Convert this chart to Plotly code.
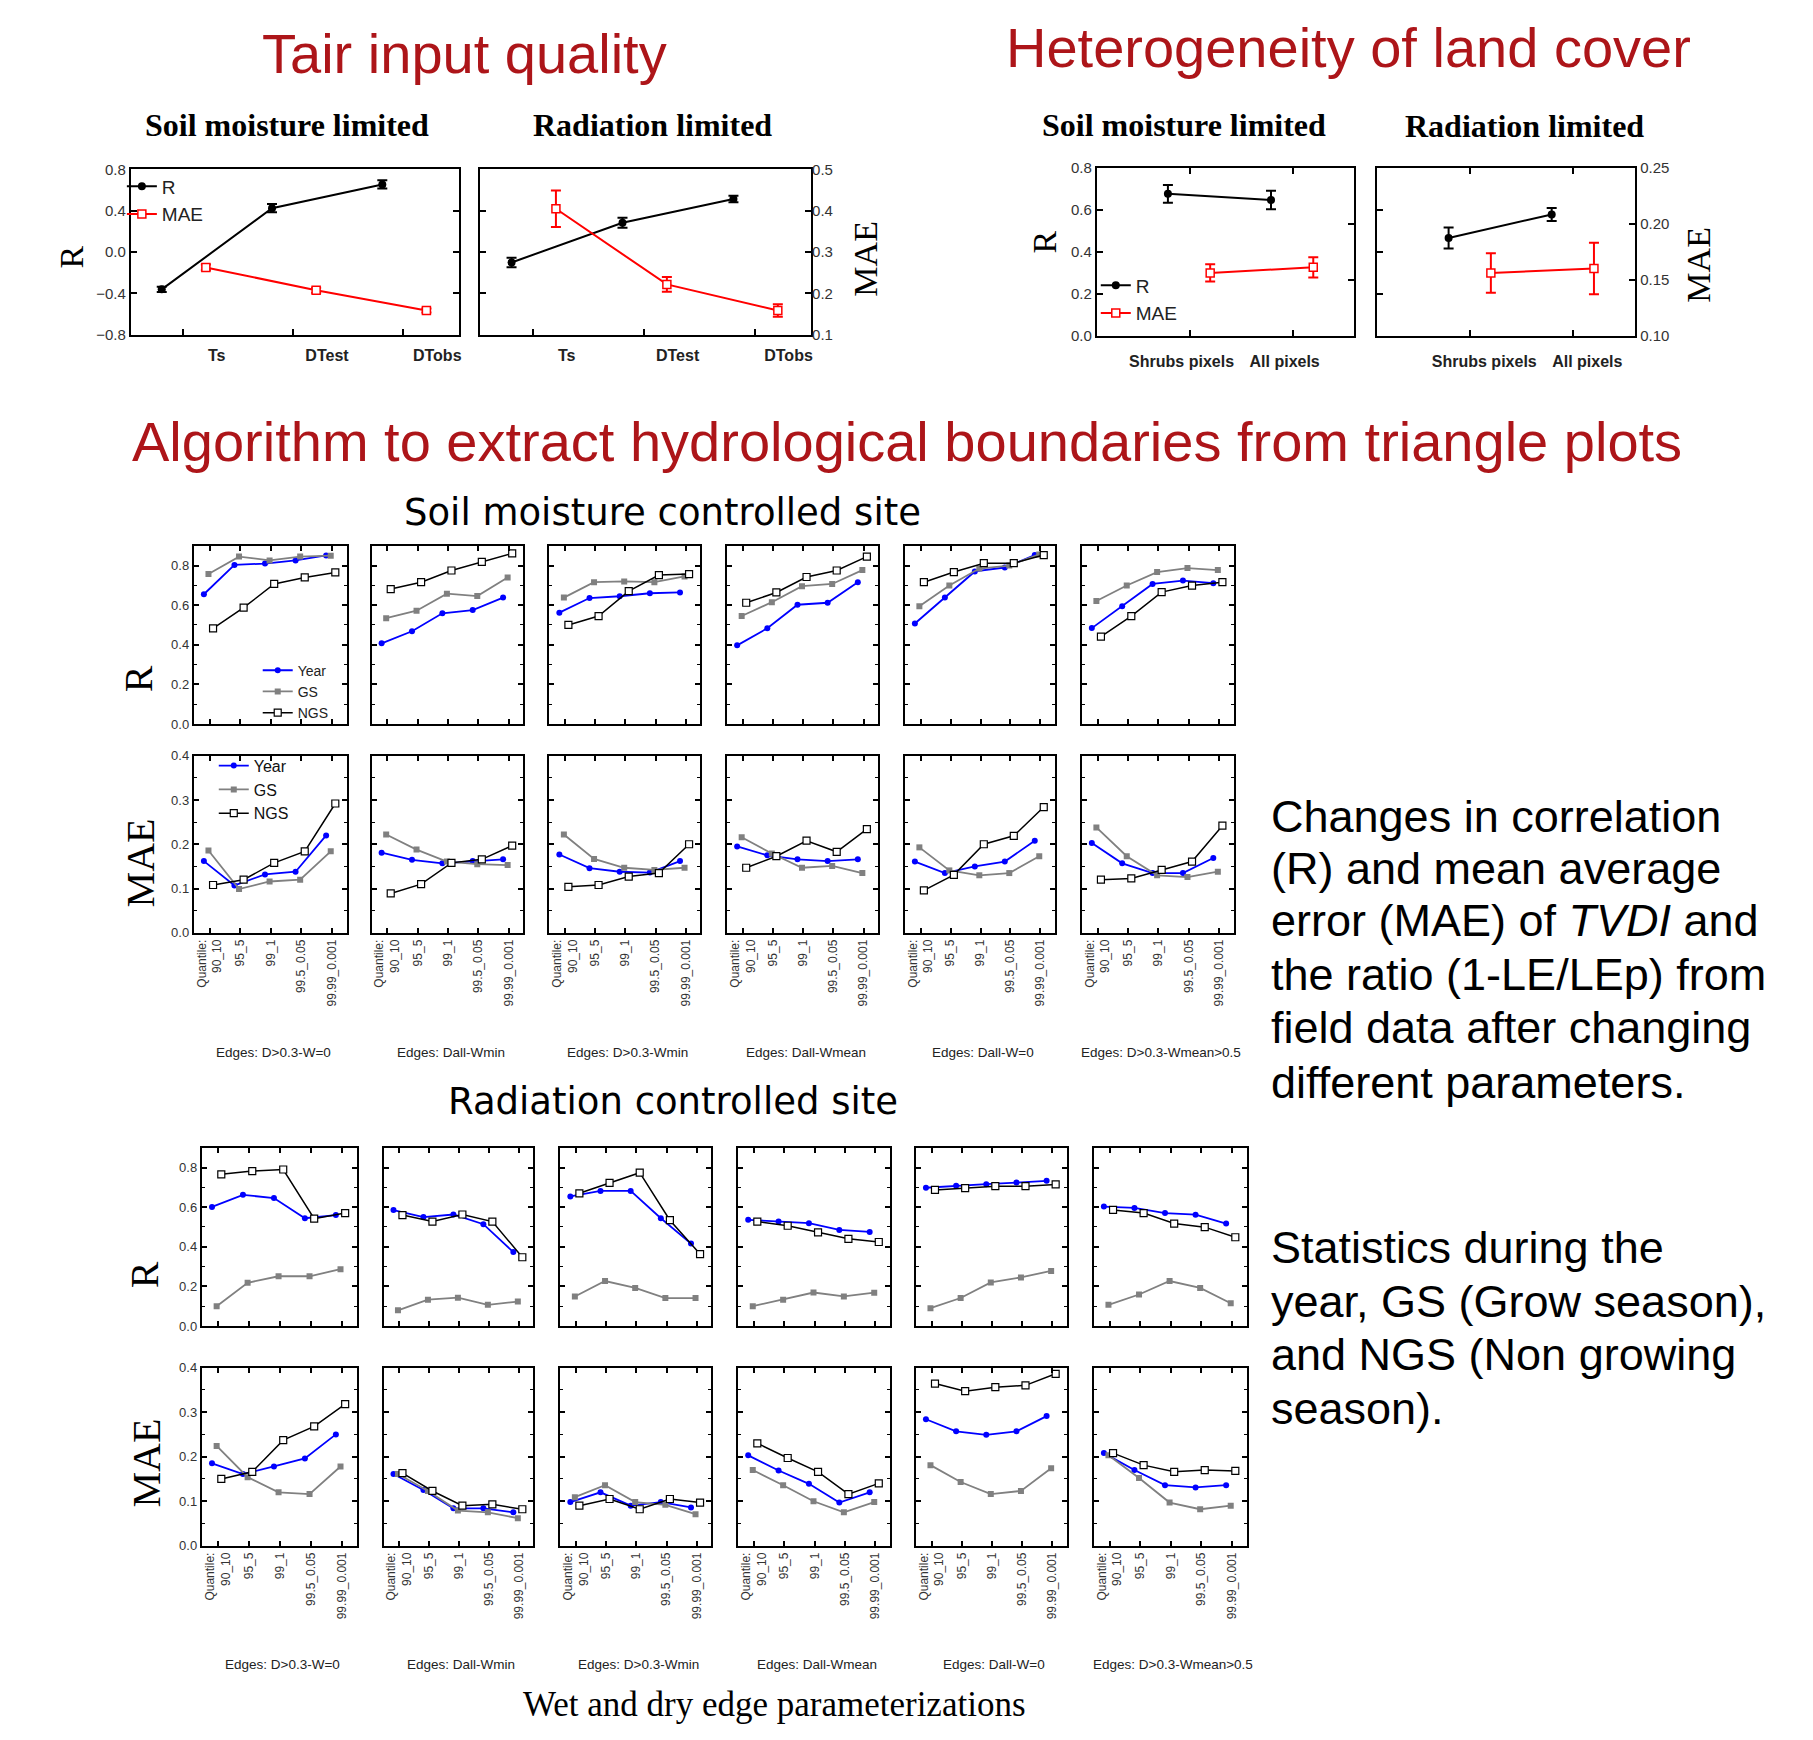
import plotly.graph_objects as go

# ---------------- data ----------------
tair_categories = ["Ts", "DTest", "DTobs"]
tair_sm_R = [-0.36, 0.425, 0.655]
tair_sm_R_err = [0.025, 0.04, 0.04]
tair_sm_MAE = [0.263, 0.208, 0.159]
tair_sm_MAE_err = [0.007, 0.006, 0.005]
tair_rad_R = [-0.10, 0.285, 0.515]
tair_rad_R_err = [0.045, 0.048, 0.032]
tair_rad_MAE = [0.405, 0.222, 0.159]
tair_rad_MAE_err = [0.044, 0.018, 0.015]

land_categories = ["Shrubs pixels", "All pixels"]
land_sm_R = [0.675, 0.645]
land_sm_R_err = [0.042, 0.044]
land_sm_MAE = [0.156, 0.161]
land_sm_MAE_err = [0.0077, 0.009]
land_rad_R = [0.465, 0.577]
land_rad_R_err = [0.05, 0.031]
land_rad_MAE = [0.156, 0.160]
land_rad_MAE_err = [0.0176, 0.023]

quantiles = ["90_10", "95_5", "99_1", "99.5_0.05", "99.99_0.001"]
edges = ["Edges: D>0.3-W=0", "Edges: Dall-Wmin", "Edges: D>0.3-Wmin",
         "Edges: Dall-Wmean", "Edges: Dall-W=0", "Edges: D>0.3-Wmean>0.5"]
series_names = ["Year", "GS", "NGS"]

# Soil moisture controlled site
sm_R_year = [[0.655, 0.803, 0.81, 0.826, 0.851], [0.407, 0.468, 0.559, 0.575, 0.638],
             [0.562, 0.636, 0.645, 0.66, 0.664], [0.397, 0.483, 0.602, 0.612, 0.716],
             [0.507, 0.638, 0.77, 0.79, 0.853], [0.484, 0.595, 0.707, 0.724, 0.711]]
sm_R_gs = [[0.757, 0.845, 0.826, 0.845, 0.85], [0.534, 0.572, 0.658, 0.646, 0.74],
           [0.638, 0.716, 0.72, 0.716, 0.745], [0.545, 0.615, 0.696, 0.707, 0.777],
           [0.595, 0.699, 0.785, 0.80, 0.856], [0.621, 0.699, 0.767, 0.787, 0.777]]
sm_R_ngs = [[0.483, 0.587, 0.707, 0.74, 0.765], [0.681, 0.716, 0.775, 0.818, 0.861],
            [0.50, 0.545, 0.671, 0.752, 0.757], [0.612, 0.664, 0.742, 0.775, 0.845],
            [0.716, 0.767, 0.812, 0.812, 0.853], [0.441, 0.545, 0.666, 0.699, 0.716]]
sm_MAE_year = [[0.162, 0.107, 0.132, 0.138, 0.22], [0.181, 0.165, 0.157, 0.162, 0.166],
               [0.177, 0.146, 0.138, 0.136, 0.162], [0.195, 0.175, 0.166, 0.162, 0.166],
               [0.161, 0.135, 0.15, 0.161, 0.208], [0.203, 0.157, 0.135, 0.135, 0.169]]
sm_MAE_gs = [[0.186, 0.099, 0.116, 0.12, 0.184], [0.222, 0.188, 0.161, 0.155, 0.153],
             [0.222, 0.167, 0.147, 0.142, 0.147], [0.216, 0.179, 0.147, 0.151, 0.135],
             [0.193, 0.141, 0.13, 0.135, 0.173], [0.238, 0.173, 0.13, 0.126, 0.138]]
sm_MAE_ngs = [[0.108, 0.12, 0.158, 0.184, 0.292], [0.089, 0.11, 0.158, 0.166, 0.197],
              [0.104, 0.108, 0.127, 0.135, 0.2], [0.147, 0.173, 0.208, 0.183, 0.234],
              [0.096, 0.131, 0.2, 0.219, 0.284], [0.12, 0.123, 0.142, 0.161, 0.242]]

# Radiation controlled site
rc_R_year = [[0.601, 0.662, 0.646, 0.544, 0.56], [0.585, 0.55, 0.563, 0.514, 0.373],
             [0.654, 0.682, 0.682, 0.544, 0.416], [0.536, 0.527, 0.519, 0.485, 0.475],
             [0.698, 0.708, 0.716, 0.724, 0.733], [0.603, 0.596, 0.57, 0.562, 0.517]]
rc_R_gs = [[0.1, 0.218, 0.251, 0.251, 0.287], [0.079, 0.133, 0.143, 0.107, 0.123],
           [0.149, 0.227, 0.192, 0.141, 0.141], [0.1, 0.133, 0.169, 0.149, 0.168],
           [0.09, 0.141, 0.22, 0.245, 0.278], [0.107, 0.159, 0.227, 0.192, 0.115]]
rc_R_ngs = [[0.766, 0.782, 0.79, 0.542, 0.57], [0.56, 0.527, 0.563, 0.527, 0.347],
            [0.67, 0.723, 0.774, 0.534, 0.363], [0.527, 0.506, 0.473, 0.44, 0.424],
            [0.687, 0.696, 0.706, 0.706, 0.715], [0.586, 0.57, 0.517, 0.499, 0.448]]
rc_MAE_year = [[0.185, 0.161, 0.178, 0.196, 0.25], [0.161, 0.125, 0.084, 0.084, 0.075],
               [0.098, 0.12, 0.09, 0.098, 0.086], [0.203, 0.169, 0.139, 0.097, 0.12],
               [0.284, 0.257, 0.249, 0.257, 0.291], [0.208, 0.17, 0.136, 0.131, 0.136]]
rc_MAE_gs = [[0.224, 0.154, 0.12, 0.116, 0.178], [0.161, 0.123, 0.079, 0.075, 0.062],
             [0.109, 0.136, 0.098, 0.092, 0.071], [0.17, 0.136, 0.1, 0.075, 0.098],
             [0.181, 0.143, 0.116, 0.123, 0.174], [0.203, 0.152, 0.097, 0.082, 0.09]]
rc_MAE_ngs = [[0.15, 0.166, 0.237, 0.268, 0.318], [0.163, 0.123, 0.09, 0.093, 0.082],
              [0.09, 0.105, 0.082, 0.105, 0.097], [0.23, 0.197, 0.166, 0.116, 0.14],
              [0.364, 0.347, 0.356, 0.36, 0.386], [0.208, 0.181, 0.166, 0.17, 0.168]]

text_block1 = ["Changes in correlation", "(R) and mean average",
               "error (MAE) of <i>TVDI</i> and", "the ratio (1-LE/LEp) from",
               "field data after changing", "different parameters."]
text_block2 = ["Statistics during the", "year, GS (Grow season),",
               "and NGS (Non growing", "season)."]

# ---------------- layout helpers ----------------
PAGE_W, PAGE_H = 1813, 1740
PAD = 8                      # default body margin of the html page
W, H = PAGE_W - 2 * PAD, PAGE_H - 2 * PAD
SANS = "Liberation Sans, Arial, sans-serif"
SERIF = "Liberation Serif, Times New Roman, serif"
DEJAVU = "DejaVu Sans, Verdana, sans-serif"
DARKRED = "#ad1519"

fig = go.Figure()
layout = dict(width=W, height=H, margin=dict(l=0, r=0, t=0, b=0),
              paper_bgcolor="white", plot_bgcolor="white", annotations=[])


def px(x):
    return (x - PAD) / W


def py(y):
    return 1 - (y - PAD) / H


xn = [0]
yn = [0]


def _key(kind, i):
    return (f"{kind}axis" if i == 1 else f"{kind}axis{i}"), (kind if i == 1 else f"{kind}{i}")


def frame_axis(**kw):
    d = dict(showline=True, linecolor="black", linewidth=2, mirror="ticks",
             ticks="inside", tickcolor="black", tickwidth=1.5, ticklen=5,
             showgrid=False, zeroline=False, fixedrange=True)
    d.update(kw)
    return d


def axes_pair(box, x_kw, y_kw):
    l, r, t, b = box
    xn[0] += 1
    yn[0] += 1
    xk, xr = _key("x", xn[0])
    yk, yr = _key("y", yn[0])
    layout[xk] = dict(domain=[px(l), px(r)], anchor=yr, **x_kw)
    layout[yk] = dict(domain=[py(b), py(t)], anchor=xr, **y_kw)
    return xr, yr


def extra_y(xr, yr_base, box, kw):
    l, r, t, b = box
    yn[0] += 1
    yk, yr = _key("y", yn[0])
    layout[yk] = dict(domain=[py(b), py(t)], anchor=xr, overlaying=yr_base,
                      side="right", **kw)
    return yr


def ann(text, x, y, size, color="black", family=SANS, angle=0, xanchor="center",
        yanchor="middle", align="center"):
    layout["annotations"].append(dict(
        text=text, x=px(x), y=py(y), xref="paper", yref="paper", showarrow=False,
        font=dict(size=size, color=color, family=family), textangle=angle,
        xanchor=xanchor, yanchor=yanchor, align=align))


# ---------------- small-multiple panels ----------------
STYLES = {
    "Year": dict(line=dict(color="#0000ff", width=1.8),
                 marker=dict(symbol="circle", size=6, color="#0000ff")),
    "GS": dict(line=dict(color="#808080", width=1.8),
               marker=dict(symbol="square", size=6, color="#808080")),
    "NGS": dict(line=dict(color="black", width=1.5),
                marker=dict(symbol="square", size=7, color="white",
                            line=dict(color="black", width=1.2))),
}
OFFS = {"Year": -0.19, "GS": -0.04, "NGS": 0.11}
quantile_labels = ["Quantile:<br>" + quantiles[0]] + quantiles[1:]


def small_panel(box, year, gs, ngs, yrange, dtick, minor, ylabels, xlabels, legend=None):
    x_kw = frame_axis(range=[-0.52, 4.48], tickmode="array", tickvals=list(range(5)),
                      ticktext=quantile_labels, showticklabels=xlabels, tickangle=-90,
                      tickfont=dict(family=SANS, size=12, color="#333"))
    y_kw = frame_axis(range=yrange, tickmode="linear", tick0=0, dtick=dtick,
                      showticklabels=ylabels, tickformat=".1f",
                      tickfont=dict(family=SANS, size=13, color="#333"),
                      minor=dict(ticks="inside", dtick=minor, tick0=0, ticklen=3,
                                 tickcolor="black", tickwidth=1.2))
    xr, yr = axes_pair(box, x_kw, y_kw)
    for name, vals in zip(series_names, (year, gs, ngs)):
        fig.add_trace(go.Scatter(
            x=[i + OFFS[name] for i in range(len(vals))], y=vals, mode="lines+markers",
            name=name, xaxis=xr, yaxis=yr, hoverinfo="skip",
            showlegend=legend is not None, legend=legend or "legend", **STYLES[name]))


sm_cols = [(194, 347), (372, 524), (550, 701), (728, 879), (906, 1056), (1083, 1235)]
rc_cols = [(202, 357), (384, 534), (561, 712), (739, 891), (917, 1068), (1095, 1248)]
sm_R_row, sm_MAE_row = (542, 722), (754, 933)
rc_R_row, rc_MAE_row = (1150, 1330), (1372, 1552)

for k, (l, r) in enumerate(sm_cols):
    small_panel((l, r) + sm_R_row, sm_R_year[k], sm_R_gs[k], sm_R_ngs[k], [0, 0.9], 0.2, 0.1,
                k == 0, False, "legend" if k == 0 else None)
    small_panel((l, r) + sm_MAE_row, sm_MAE_year[k], sm_MAE_gs[k], sm_MAE_ngs[k], [0, 0.4], 0.1,
                0.05, k == 0, True, "legend2" if k == 0 else None)
    ann(edges[k], (l + r) / 2 + 3, 1054, 13.5, color="#222")

for k, (l, r) in enumerate(rc_cols):
    small_panel((l, r) + rc_R_row, rc_R_year[k], rc_R_gs[k], rc_R_ngs[k], [0, 0.9], 0.2, 0.1,
                k == 0, False)
    small_panel((l, r) + rc_MAE_row, rc_MAE_year[k], rc_MAE_gs[k], rc_MAE_ngs[k], [0, 0.4], 0.1,
                0.05, k == 0, True)
    ann(edges[k], (l + r) / 2 + 3, 1672, 13.5, color="#222")


# ---------------- top panels with error bars ----------------
def err_panel(box, cats, R, Rerr, M, Merr, xrange, offs, xshift, standoff, yR, yM, left_lab,
              right_lab, mformat, rdtick, mdtick, mirror_R, legend=None):
    x_kw = frame_axis(range=xrange, tickmode="array", tickvals=list(range(len(cats))),
                      ticktext=cats, mirror="ticks" if not mirror_R else True,
                      ticklabelshift=xshift, ticklabelstandoff=standoff, ticklen=6,
                      tickfont=dict(family=SANS, size=16, color="#222", weight="bold"))
    y_kw = frame_axis(range=yR, tickmode="linear", tick0=yR[0], dtick=rdtick, tickformat=".1f",
                      showticklabels=left_lab, ticklen=6,
                      mirror="ticks" if mirror_R else False,
                      tickfont=dict(family=SANS, size=15, color="#333"))
    xr, yr = axes_pair(box, x_kw, y_kw)
    m_kw = dict(range=yM, tickmode="linear", tick0=yM[0], dtick=mdtick, tickformat=mformat,
                showticklabels=right_lab, showgrid=False, zeroline=False, fixedrange=True,
                showline=not mirror_R, linecolor="black", linewidth=2,
                ticks="" if mirror_R else "inside", tickcolor="black", tickwidth=1.5, ticklen=6,
                tickfont=dict(family=SANS, size=15, color="#333"))
    yr2 = extra_y(xr, yr, box, m_kw)
    n = len(cats)
    fig.add_trace(go.Scatter(
        x=[i + offs[0] for i in range(n)], y=R, name="R", mode="lines+markers",
        xaxis=xr, yaxis=yr, hoverinfo="skip", showlegend=legend is not None,
        legend=legend or "legend",
        line=dict(color="black", width=2), marker=dict(symbol="circle", size=8, color="black"),
        error_y=dict(type="data", array=Rerr, color="black", thickness=2, width=5)))
    fig.add_trace(go.Scatter(
        x=[i + offs[1] for i in range(n)], y=M, name="MAE", mode="lines+markers",
        xaxis=xr, yaxis=yr2, hoverinfo="skip", showlegend=legend is not None,
        legend=legend or "legend",
        line=dict(color="#ff0000", width=2),
        marker=dict(symbol="square", size=8, color="white", line=dict(color="#ff0000", width=1.5)),
        error_y=dict(type="data", array=Merr, color="#ff0000", thickness=2, width=5)))


err_panel((131, 460, 162, 329), tair_categories, tair_sm_R, tair_sm_R_err, tair_sm_MAE,
          tair_sm_MAE_err, [-0.47, 2.51], (-0.19, 0.21), 34, 5, [-0.8, 0.8], [0.1, 0.5], True,
          False, ".1f", 0.4, 0.1, True, legend="legend3")
err_panel((481, 812, 162, 329), tair_categories, tair_rad_R, tair_rad_R_err, tair_rad_MAE,
          tair_rad_MAE_err, [-0.47, 2.51], (-0.19, 0.21), 34, 5, [-0.8, 0.8], [0.1, 0.5], False,
          True, ".1f", 0.4, 0.1, True)
err_panel((1098, 1356, 160, 330), land_categories, land_sm_R, land_sm_R_err, land_sm_MAE,
          land_sm_MAE_err, [-0.9, 1.6], (-0.21, 0.2), -8, 10, [0, 0.8], [0.10, 0.25], True,
          False, ".2f", 0.2, 0.05, False, legend="legend4")
err_panel((1379, 1637, 160, 330), land_categories, land_rad_R, land_rad_R_err, land_rad_MAE,
          land_rad_MAE_err, [-0.9, 1.6], (-0.21, 0.2), 14, 10, [0, 0.8], [0.10, 0.25], False,
          True, ".2f", 0.2, 0.05, False)

# ---------------- legends ----------------
leg_common = dict(xanchor="left", yanchor="top", bgcolor="rgba(0,0,0,0)", tracegroupgap=0,
                  itemwidth=30, borderwidth=0)
layout["legend"] = dict(x=px(258), y=py(652), font=dict(family=SANS, size=14, color="#222"),
                        **leg_common)
layout["legend2"] = dict(x=px(214), y=py(747), font=dict(family=SANS, size=16, color="#111"),
                         **leg_common)
layout["legend3"] = dict(x=px(122), y=py(160), font=dict(family=SANS, size=19, color="#222"),
                         **leg_common)
layout["legend4"] = dict(x=px(1097), y=py(260), font=dict(family=SANS, size=19, color="#222"),
                         **leg_common)

# ---------------- titles & texts ----------------
ann("Tair input quality", 465, 45, 56, color=DARKRED)
ann("Heterogeneity of land cover", 1350, 39, 56, color=DARKRED)
ann("<b>Soil moisture limited</b>", 287, 117, 32, family=SERIF)
ann("<b>Radiation limited</b>", 653, 117, 32, family=SERIF)
ann("<b>Soil moisture limited</b>", 1185, 117, 32, family=SERIF)
ann("<b>Radiation limited</b>", 1526, 118, 32, family=SERIF)
ann("R", 72, 250, 34, family=SERIF, angle=-90)
ann("MAE", 867, 252, 34, family=SERIF, angle=-90)
ann("R", 1046, 235, 34, family=SERIF, angle=-90)
ann("MAE", 1700, 258, 34, family=SERIF, angle=-90)

ann("Algorithm to extract hydrological boundaries from triangle plots", 908, 437, 56,
    color=DARKRED)
ann("Soil moisture controlled site", 663, 508, 37, family=DEJAVU)
ann("Radiation controlled site", 674, 1103, 37, family=DEJAVU)
ann("R", 139, 676, 40, family=SERIF, angle=-90)
ann("MAE", 141, 862, 40, family=SERIF, angle=-90)
ann("R", 145, 1278, 40, family=SERIF, angle=-90)
ann("MAE", 147, 1468, 40, family=SERIF, angle=-90)
ann("Wet and dry edge parameterizations", 775, 1712, 35, family=SERIF)

for line, yy in zip(text_block1, [815, 868, 921, 975, 1029, 1084]):
    ann(line, 1270, yy, 45, xanchor="left")
for line, yy in zip(text_block2, [1251, 1305, 1359, 1413]):
    ann(line, 1270, yy, 45, xanchor="left")

fig.update_layout(**layout)
fig.write_html("out.html")
